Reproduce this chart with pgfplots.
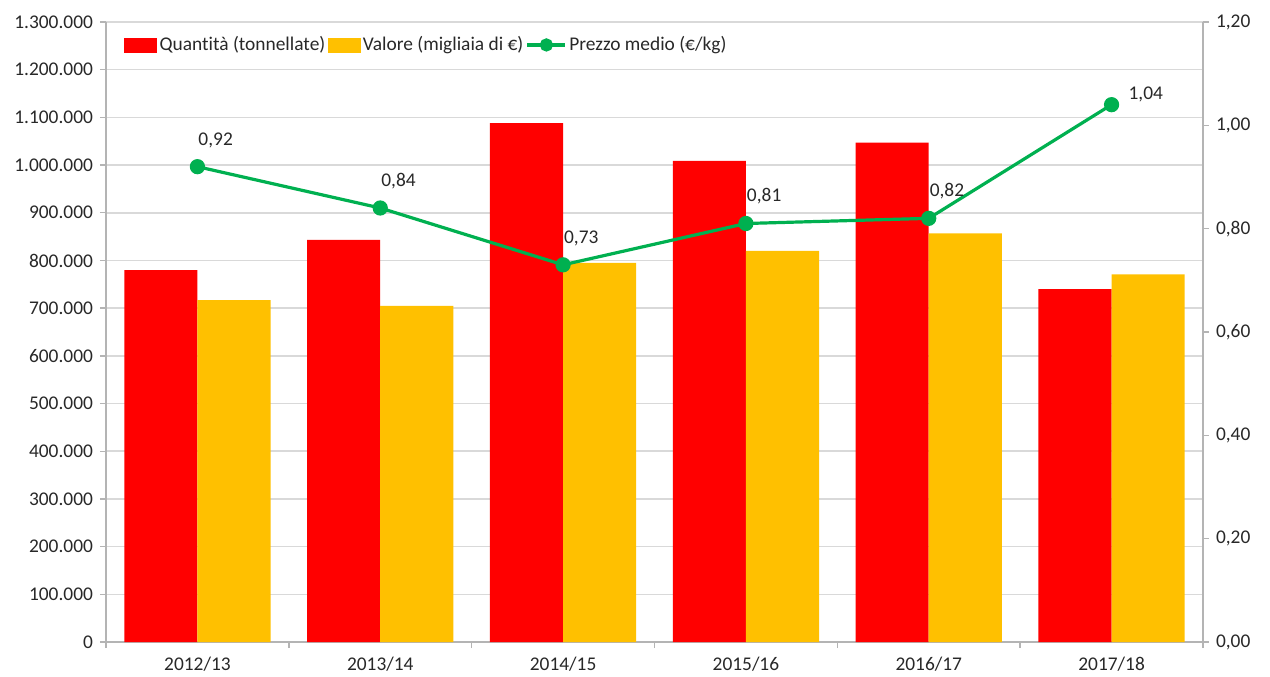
\documentclass[border=0pt]{standalone}
\usepackage{pgfplots}
\pgfplotsset{compat=1.18}
\usepackage{fontspec}
\setmainfont[Ligatures=NoCommon]{Carlito}
\definecolor{qred}{RGB}{255,0,0}
\definecolor{qgold}{RGB}{255,192,0}
\definecolor{qgreen}{RGB}{0,176,80}
\definecolor{gridg}{RGB}{217,217,217}
\definecolor{axg}{RGB}{180,180,180}
\definecolor{txt}{RGB}{40,40,40}
\begin{document}
\begin{tikzpicture}
\pgfplotsset{
  base/.style={scale only axis, width=548.5pt, height=310pt, xmin=-0.5, xmax=5.5,
    font=\fontsize{9.7}{11}\selectfont,
    tick label style={text=txt},
    /pgf/number format/assume math mode=true,
    axis line style={axg, line width=0.7pt},
    tick style={axg, line width=0.7pt},
    major tick length=3pt, tick align=outside},
}
\begin{axis}[base,
  ymin=0, ymax=1300000, ytick distance=100000, scaled y ticks=false,
  yticklabel style={/pgf/number format/.cd, fixed, 1000 sep={.}},
  ymajorgrids, grid style={gridg, line width=0.8pt},
  axis x line*=bottom, axis y line*=left,
  xtick={-0.5,0.5,...,5.5}, xticklabels={},
  extra x ticks={0,1,2,3,4,5},
  extra x tick labels={2012/13,2013/14,2014/15,2015/16,2016/17,2017/18},
  extra x tick style={major tick length=0pt, xticklabel style={yshift=-4pt}},
  ]
\addplot[ybar, bar width=0.4, bar shift=-0.2, fill=qred, draw=none] coordinates {
  (0,780000) (1,843000) (2,1088000) (3,1009000) (4,1047000) (5,740000)};
\addplot[ybar, bar width=0.4, bar shift=0.2, fill=qgold, draw=none] coordinates {
  (0,717000) (1,705000) (2,795000) (3,820000) (4,857000) (5,771000)};
\end{axis}
\begin{axis}[base,
  ymin=0, ymax=1.2, ytick distance=0.2,
  yticklabel style={/pgf/number format/.cd, fixed, fixed zerofill, precision=2, use comma},
  axis x line=none, axis y line*=right,
  legend style={at={(0.0164,0.963)}, anchor=west, draw=none, fill=none,
    inner sep=0pt, font=\fontsize{9.7}{11}\selectfont, text=txt,
    nodes={inner sep=1.2pt}},
  legend columns=-1,
  ]
\addlegendimage{legend image code/.code={\fill[qred] (0pt,-3.5pt) rectangle (16pt,3.5pt);}}
\addlegendentry{Quantità (tonnellate)}
\addlegendimage{legend image code/.code={\fill[qgold] (0pt,-3.5pt) rectangle (16pt,3.5pt);}}
\addlegendentry{Valore (migliaia di €)}
\addplot[qgreen, line width=1.6pt, mark=*, mark size=3pt,
  legend image code/.code={\draw[qgreen, line width=1.6pt] (0pt,0pt) -- (19pt,0pt); \fill[qgreen] (9.5pt,0pt) circle (2.5pt);}]
  coordinates {(0,0.92) (1,0.84) (2,0.73) (3,0.81) (4,0.82) (5,1.04)};
\addlegendentry{Prezzo medio (€/kg)}
\addplot[draw=none, mark=none, forget plot,
  nodes near coords, point meta=y,
  every node near coord/.style={anchor=south west, xshift=-3pt, yshift=6pt, text=txt,
    font=\fontsize{9.7}{11}\selectfont,
    /pgf/number format/.cd, fixed, fixed zerofill, precision=2, use comma}]
  coordinates {(0,0.92) (1,0.84) (2,0.73) (3,0.81) (4,0.82)};
\addplot[draw=none, mark=none, forget plot,
  nodes near coords, point meta=y,
  every node near coord/.style={anchor=west, xshift=5pt, yshift=5pt, text=txt,
    font=\fontsize{9.7}{11}\selectfont,
    /pgf/number format/.cd, fixed, fixed zerofill, precision=2, use comma}]
  coordinates {(5,1.04)};
\end{axis}
\pgfresetboundingbox
\path (-53pt,-17pt) rectangle (582pt,321pt);
\end{tikzpicture}
\end{document}
